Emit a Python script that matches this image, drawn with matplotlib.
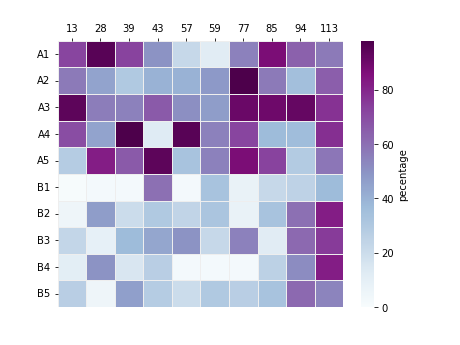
import numpy as np
import pandas as pd
import matplotlib
matplotlib.use('Agg')
import matplotlib.pyplot as plt
import seaborn as sns

# 行：样本，列：位置
rows = ['A1', 'A2', 'A3', 'A4', 'A5', 'B1', 'B2', 'B3', 'B4', 'B5']
cols = [13, 28, 39, 43, 57, 59, 77, 85, 94, 113]

a1 = [72, 95, 73, 50, 22, 12, 55, 87, 64, 57]
a2 = [57, 45, 30, 40, 40, 48, 98, 57, 35, 65]
a3 = [94, 56, 55, 66, 51, 47, 91, 90, 92, 77]
a4 = [70, 45, 98, 13, 95, 55, 72, 37, 36, 78]
a5 = [28, 82, 66, 94, 33, 55, 87, 73, 29, 58]
b1 = [1, 2, 2, 60, 2, 33, 8, 22, 25, 37]
b2 = [5, 47, 20, 30, 24, 32, 8, 33, 60, 82]
b3 = [23, 9, 37, 44, 50, 22, 55, 12, 62, 75]
b4 = [11, 50, 15, 27, 2, 2, 2, 26, 52, 82]
b5 = [27, 5, 46, 28, 20, 30, 27, 33, 62, 54]

df = pd.DataFrame([a1, a2, a3, a4, a5, b1, b2, b3, b4, b5],
                  index=rows, columns=cols)

fig, ax = plt.subplots(figsize=(6.4, 4.8), dpi=72)
sns.heatmap(df, cmap='BuPu', vmin=0, linewidths=1, linecolor='#eeeeee',
            cbar_kws={'label': 'pecentage'}, ax=ax)
ax.xaxis.tick_top()
ax.tick_params(axis='x', rotation=0)
ax.tick_params(axis='y', rotation=0)

plt.savefig('out.png', dpi=72)
